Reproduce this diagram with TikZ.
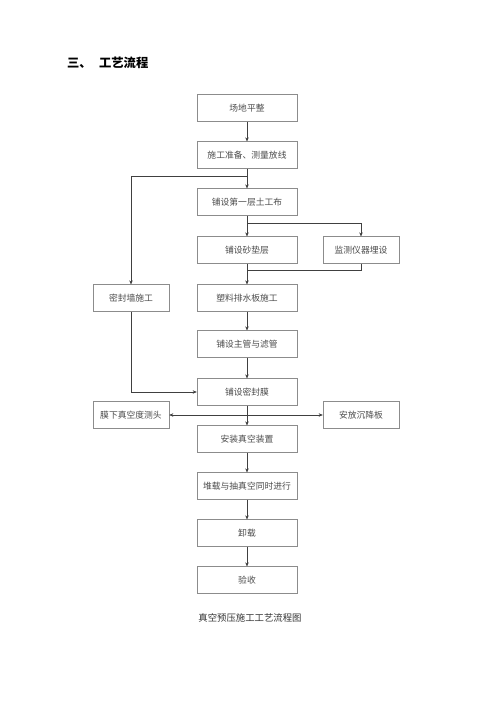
\documentclass[tikz,border=0pt]{standalone}
\usepackage{fontspec}
\setmainfont{Noto Sans CJK SC}
\usetikzlibrary{arrows.meta}
\begin{document}
\begin{tikzpicture}[x=0.03cm,y=-0.03cm,>={Stealth[length=3.5pt,width=3pt]},
  box/.style={draw=black!45,fill=white,minimum width=3cm,minimum height=0.8cm,inner sep=0pt,text=black!70,font=\fontsize{7.5}{9}\selectfont},
  sidebox/.style={box,minimum width=2.28cm},
  flow/.style={draw=black!75,line width=0.5pt}]
\useasboundingbox (0,0) rectangle (500,707);

% Titel
\node[anchor=west,font=\fontsize{10.5}{12}\selectfont\bfseries] (title) at (63,63) {三、\hspace{0.6em}工艺流程};

% Hauptspalte
\node[box] (b1)  at (247,108) {场地平整};
\node[box] (b2)  at (247,155) {施工准备、测量放线};
\node[box] (b3)  at (247,202) {铺设第一层土工布};
\node[box] (b4)  at (247,250) {铺设砂垫层};
\node[box] (b5)  at (247,298) {塑料排水板施工};
\node[box] (b6)  at (247,344) {铺设主管与滤管};
\node[box] (b7)  at (247,392) {铺设密封膜};
\node[box] (b8)  at (247,439) {安装真空装置};
\node[box] (b9)  at (247,486) {堆载与抽真空同时进行};
\node[box] (b10) at (247,533) {卸载};
\node[box] (b11) at (247,580) {验收};

% Seitenkaesten
\node[sidebox] (wall)    at (131,298) {密封墙施工};
\node[sidebox] (monitor) at (361,250) {监测仪器埋设};
\node[sidebox] (probe)   at (131,415) {膜下真空度测头};
\node[sidebox] (plate)   at (361,415) {安放沉降板};

\coordinate (s1) at (247,176);
\coordinate (s2) at (247,223);
\coordinate (m1) at (247,270);
\coordinate (s3) at (247,415);

% Pfeile
\draw[flow,->] (b1) -- (b2);
\draw[flow,->] (b2) -- (b3);
\draw[flow,->] (s1) -| (wall);
\draw[flow,->] (b3) -- (b4);
\draw[flow,->] (s2) -| (monitor);
\draw[flow,->] (b4) -- (b5);
\draw[flow] (monitor.south) |- (m1);
\draw[flow,->] (b5) -- (b6);
\draw[flow,->] (b6) -- (b7);
\draw[flow,->] (wall.south) |- (b7.west);
\draw[flow,->] (b7) -- (b8);
\draw[flow,->] (s3) -- (probe.east);
\draw[flow,->] (s3) -- (plate.west);
\draw[flow,->] (b8) -- (b9);
\draw[flow,->] (b9) -- (b10);
\draw[flow,->] (b10) -- (b11);

\node[font=\fontsize{8}{9}\selectfont,text=black!80] (caption) at (250,618) {真空预压施工工艺流程图};
\end{tikzpicture}
\end{document}
